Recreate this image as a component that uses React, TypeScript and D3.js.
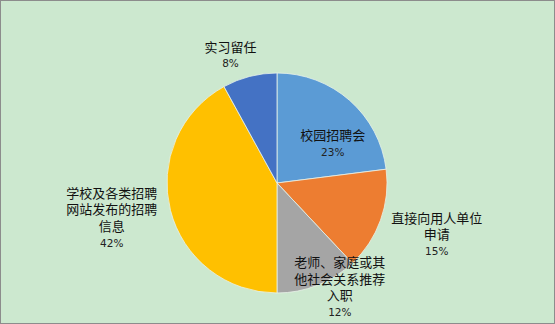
import React, { useEffect, useRef } from "react";
import * as d3 from "d3";

const categories = [
  "校园招聘会",
  "直接向用人单位申请",
  "老师、家庭或其他社会关系推荐入职",
  "学校及各类招聘网站发布的招聘信息",
  "实习留任",
];
const values = [23, 15, 12, 42, 8];
const colors = ["#5B9BD5", "#ED7D31", "#A5A5A5", "#FFC000", "#4472C4"];

// label placement (distance from centre, angle shift in degrees from slice middle)
const labelRadius = [68, 168, 122, 169, 136];
const labelShift = [13.6, -1.8, -9.4, 2.4, -5.6];

const W = 555;
const H = 324;

const wrap = (s: string, n: number) => {
  const out: string[] = [];
  for (let i = 0; i < s.length; i += n) out.push(s.slice(i, i + n));
  return out;
};

const App: React.FC = () => {
  const ref = useRef<SVGSVGElement>(null);

  useEffect(() => {
    const svg = d3.select(ref.current);
    svg.selectAll("*").remove();

    svg.append("rect")
      .attr("x", 0.5).attr("y", 0.5)
      .attr("width", W - 1).attr("height", H - 1)
      .attr("fill", "#CCE8CF")
      .attr("stroke", "#8C8C8C");

    const cx = 277;
    const cy = 183;
    const r = 110;

    const pie = d3.pie<number>().sort(null).value((d) => d);
    const arcs = pie(values);
    const arc = d3.arc<d3.PieArcDatum<number>>().innerRadius(0).outerRadius(r);

    const g = svg.append("g").attr("transform", `translate(${cx},${cy})`);
    g.selectAll("path")
      .data(arcs)
      .enter()
      .append("path")
      .attr("d", (d) => arc(d) || "")
      .attr("fill", (d, i) => colors[i])
      .attr("stroke", "#E8F2EA")
      .attr("stroke-width", 0.8);

    const total = d3.sum(values);
    const lh = 16.5;
    arcs.forEach((d, i) => {
      const a = (d.startAngle + d.endAngle) / 2 + (labelShift[i] * Math.PI) / 180;
      const x = labelRadius[i] * Math.sin(a);
      const y = -labelRadius[i] * Math.cos(a);
      const lines = wrap(categories[i], 7);
      const n = lines.length + 1;
      const y0 = y - ((n - 1) * lh) / 2;
      const t = g.append("g").attr("text-anchor", "middle");
      lines.forEach((ln, k) => {
        t.append("text")
          .attr("x", x)
          .attr("y", y0 + k * lh)
          .attr("dy", "0.35em")
          .attr("font-family", "'Noto Sans CJK SC', sans-serif")
          .attr("font-size", 13)
          .attr("fill", "#111")
          .text(ln);
      });
      t.append("text")
        .attr("x", x)
        .attr("y", y0 + lines.length * lh)
        .attr("dy", "0.35em")
        .attr("font-family", "'DejaVu Sans', sans-serif")
        .attr("font-size", 10.5)
        .attr("fill", "#222")
        .text(`${Math.round((values[i] / total) * 100)}%`);
    });
  }, []);

  return (
    <svg
      ref={ref}
      width={W}
      height={H}
      style={{ position: "absolute", left: 0, top: 0, display: "block" }}
    />
  );
};

export default App;
